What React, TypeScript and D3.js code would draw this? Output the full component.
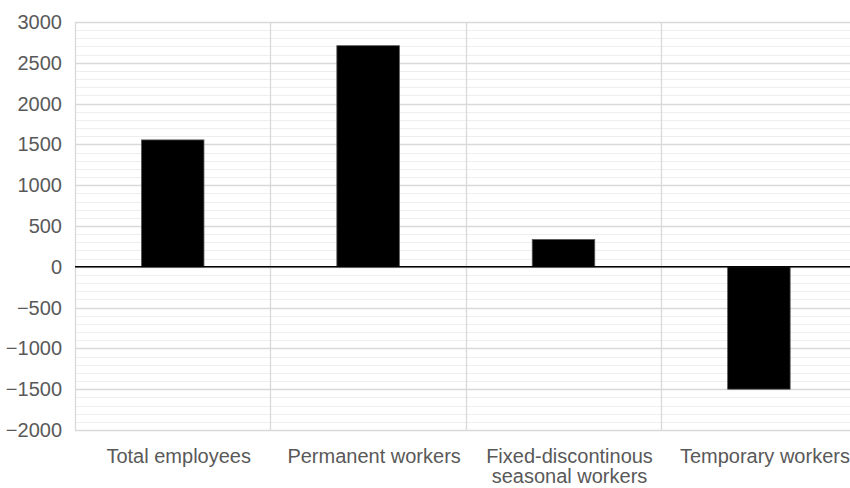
import React, { useRef, useEffect } from "react";
import * as d3 from "d3";

const categories = [
  "Total employees",
  "Permanent workers",
  "Fixed-discontinous seasonal workers",
  "Temporary workers",
];
// how each category label breaks into lines
const categoryLines = [
  ["Total employees"],
  ["Permanent workers"],
  ["Fixed-discontinous", "seasonal workers"],
  ["Temporary workers"],
];
const values = [1555, 2710, 335, -1500];
const yTicks = [-2000, -1500, -1000, -500, 0, 500, 1000, 1500, 2000, 2500, 3000];
const yTickLabels = ["\u22122000", "\u22121500", "\u22121000", "\u2212500", "0", "500", "1000", "1500", "2000", "2500", "3000"];

const W = 850;
const H = 488;

export default function App() {
  const svgRef = useRef<SVGSVGElement>(null);

  useEffect(() => {
    if (!svgRef.current) return;
    const svg = d3.select(svgRef.current);
    svg.selectAll("*").remove();

    const left = 75;
    const bandW = 195.4;
    const x = d3
      .scaleBand<string>()
      .domain(categories)
      .range([left, left + bandW * categories.length])
      .paddingInner(0)
      .paddingOuter(0);
    const y = d3.scaleLinear().domain([-2000, 3000]).range([430, 22]);

    const font = "Helvetica, Arial, 'Liberation Sans', sans-serif";
    const textColor = "#595959";

    // minor grid
    svg
      .append("g")
      .selectAll("line")
      .data(d3.range(-2000, 3001, 100).filter((v) => v % 500 !== 0))
      .enter()
      .append("line")
      .attr("x1", left)
      .attr("x2", W)
      .attr("y1", (d) => Math.round(y(d)) + 0.5)
      .attr("y2", (d) => Math.round(y(d)) + 0.5)
      .attr("stroke", "#eeeeee")
      .attr("stroke-width", 1);

    // major grid
    svg
      .append("g")
      .selectAll("line")
      .data(yTicks)
      .enter()
      .append("line")
      .attr("x1", left)
      .attr("x2", W)
      .attr("y1", (d) => Math.round(y(d)) + 0.5)
      .attr("y2", (d) => Math.round(y(d)) + 0.5)
      .attr("stroke", "#d9d9d9")
      .attr("stroke-width", 1.3);

    // vertical separators between categories
    const seps = categories.map((c) => x(c)!).concat([x.range()[1]]);
    svg
      .append("g")
      .selectAll("line")
      .data(seps)
      .enter()
      .append("line")
      .attr("x1", (d) => Math.round(d) + 0.5)
      .attr("x2", (d) => Math.round(d) + 0.5)
      .attr("y1", y(3000))
      .attr("y2", y(-2000))
      .attr("stroke", "#d9d9d9")
      .attr("stroke-width", 1.3);

    // bars
    const barW = x.bandwidth() * 0.32;
    svg
      .append("g")
      .selectAll("rect")
      .data(values)
      .enter()
      .append("rect")
      .attr("x", (d, i) => x(categories[i])! + (x.bandwidth() - barW) / 2)
      .attr("width", barW)
      .attr("y", (d) => y(Math.max(0, d)))
      .attr("height", (d) => Math.abs(y(d) - y(0)))
      .attr("fill", "#000")
      .attr("stroke", "#595959")
      .attr("stroke-width", 0.8);

    // zero line
    svg
      .append("line")
      .attr("x1", left)
      .attr("x2", W)
      .attr("y1", y(0))
      .attr("y2", y(0))
      .attr("stroke", "#000")
      .attr("stroke-width", 1.5);

    // y tick labels
    svg
      .append("g")
      .selectAll("text")
      .data(yTicks)
      .enter()
      .append("text")
      .attr("x", 62)
      .attr("y", (d) => y(d))
      .attr("dy", "0.35em")
      .attr("text-anchor", "end")
      .attr("font-family", font)
      .attr("font-size", 20)
      .attr("fill", textColor)
      .text((d, i) => yTickLabels[i]);

    // category labels
    const cat = svg
      .append("g")
      .selectAll("text")
      .data(categories)
      .enter()
      .append("text")
      .attr("x", (d) => x(d)! + x.bandwidth() / 2 + 6)
      .attr("y", 463)
      .attr("text-anchor", "middle")
      .attr("font-family", font)
      .attr("font-size", 20)
      .attr("fill", textColor);
    cat
      .selectAll("tspan")
      .data((d, i) => categoryLines[i])
      .enter()
      .append("tspan")
      .attr("x", function () {
        return (this.parentNode as SVGTextElement).getAttribute("x");
      })
      .attr("dy", (d, i) => (i === 0 ? 0 : 20))
      .text((d) => d);
  }, []);

  return (
    <svg
      ref={svgRef}
      width={W}
      height={H}
      viewBox={`0 0 ${W} ${H}`}
      style={{ position: "absolute", left: 0, top: 0, background: "#fff" }}
    />
  );
}
